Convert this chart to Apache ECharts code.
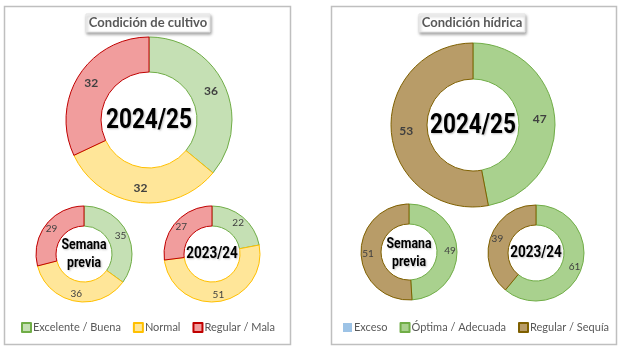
<!DOCTYPE html>
<html>
<head>
<meta charset="utf-8">
<script src="https://cdn.jsdelivr.net/npm/echarts@6/dist/echarts.min.js"></script>
<style>
  html, body { margin: 0; padding: 0; background: #fff; }
  #main { width: 624px; height: 352px; }
</style>
</head>
<body>
<div id="main"></div>
<script>
  // condición de cultivo
  const cultivoCats = ['Excelente / Buena', 'Normal', 'Regular / Mala'];
  const cultivoActual = [36, 32, 32];
  const cultivoPrevia = [35, 36, 29];
  const cultivoAnterior = [22, 51, 27];
  // condición hídrica
  const hidricaCats = ['Exceso', 'Óptima / Adecuada', 'Regular / Sequía'];
  const hidricaActual = [0, 47, 53];
  const hidricaPrevia = [0, 49, 51];
  const hidricaAnterior = [0, 61, 39];

  const cultivoFill = ['#c5e0b4', '#ffe699', '#f19d9d'];
  const cultivoLine = ['#70ad47', '#ffc000', '#c00000'];
  const hidricaFill = ['#9dc3e6', '#a9d18e', '#b89c68'];
  const hidricaLine = ['#2e75b6', '#70ad47', '#7f6000'];

  const FONT = 'Lato';
  const BOLD = 'Roboto';

  function items(cats, vals, fill, line) {
    return cats.map(function (c, i) {
      return {
        name: c,
        value: vals[i],
        itemStyle: { color: fill[i], borderColor: line[i], borderWidth: vals[i] ? 1 : 0 }
      };
    });
  }

  function donut(cats, vals, fill, line, cx, cy, r0, r1, fs, bold) {
    return {
      type: 'pie',
      center: [cx, cy],
      radius: [r0, r1],
      startAngle: 90,
      clockwise: true,
      silent: true,
      animation: false,
      stillShowZeroSum: true,
      label: {
        show: true,
        position: 'inside',
        color: '#404040',
        fontFamily: FONT,
        fontSize: fs,
        fontWeight: bold ? 'bold' : 'normal',
        formatter: function (p) { return p.value ? String(p.value) : ''; }
      },
      labelLine: { show: false },
      data: items(cats, vals, fill, line)
    };
  }

  // texto central condensado
  function centerText(x, y, txt, size) {
    return {
      type: 'text', x: x, y: y, z: 100, scaleX: 0.82,
      style: {
        text: txt, fill: '#000', font: 'bold ' + size + 'px ' + BOLD,
        textAlign: 'center', textVerticalAlign: 'middle', lineHeight: size + 3,
        textShadowColor: 'rgba(0,0,0,0.25)', textShadowBlur: 2, textShadowOffsetX: 1, textShadowOffsetY: 1
      }
    };
  }

  function titleBox(x, y, w, h, txt) {
    return [
      { type: 'rect', shape: { x: x, y: y, width: w, height: h },
        style: { fill: '#fff', stroke: '#e4e4e4', lineWidth: 1,
          shadowBlur: 3, shadowOffsetX: 1, shadowOffsetY: 2, shadowColor: 'rgba(0,0,0,0.35)' }, z: 5 },
      { type: 'text', x: x + w / 2, y: y + h / 2, z: 6,
        style: { text: txt, fill: '#595959', font: 'bold 13px ' + FONT,
          textAlign: 'center', textVerticalAlign: 'middle' } }
    ];
  }

  function legendAt(cats, x) {
    return {
      data: cats, left: x, top: 322, icon: 'rect', padding: 0,
      itemWidth: 9, itemHeight: 9, itemGap: 12,
      textStyle: { color: '#595959', fontFamily: FONT, fontSize: 11, padding: [0, 0, 0, -3] }
    };
  }

  var chart = echarts.init(document.getElementById('main'));
  chart.setOption({
    backgroundColor: '#fff',
    animation: false,
    legend: [legendAt(cultivoCats, 21), legendAt(hidricaCats, 343)],
    graphic: [
      { type: 'rect', shape: { x: 4.5, y: 6.5, width: 286, height: 338 },
        style: { fill: 'none', stroke: '#bfbfbf', lineWidth: 1.5 }, z: 1 },
      { type: 'rect', shape: { x: 331.5, y: 6.5, width: 285, height: 338 },
        style: { fill: 'none', stroke: '#bfbfbf', lineWidth: 1.5 }, z: 1 }
    ]
      .concat(titleBox(86, 14, 124, 18, 'Condición de cultivo'))
      .concat(titleBox(419, 14, 106, 18, 'Condición hídrica'))
      .concat([
        centerText(149, 121, '2024/25', 27.5),
        centerText(84, 254, 'Semana\nprevia', 15),
        centerText(212, 254, '2023/24', 16.5),
        centerText(473, 126, '2024/25', 27.5),
        centerText(409, 253, 'Semana\nprevia', 15),
        centerText(536, 253, '2023/24', 16.5)
      ]),
    series: [
      donut(cultivoCats, cultivoActual, cultivoFill, cultivoLine, 149, 120, 48, 83, 12, true),
      donut(cultivoCats, cultivoPrevia, cultivoFill, cultivoLine, 84, 254, 28, 48, 10, false),
      donut(cultivoCats, cultivoAnterior, cultivoFill, cultivoLine, 212, 254, 28, 48, 10, false),
      donut(hidricaCats, hidricaActual, hidricaFill, hidricaLine, 473, 125, 46, 82, 12, true),
      donut(hidricaCats, hidricaPrevia, hidricaFill, hidricaLine, 409, 252, 28, 48, 10, false),
      donut(hidricaCats, hidricaAnterior, hidricaFill, hidricaLine, 536, 253, 28, 48, 10, false)
    ]
  });
</script>
</body>
</html>
